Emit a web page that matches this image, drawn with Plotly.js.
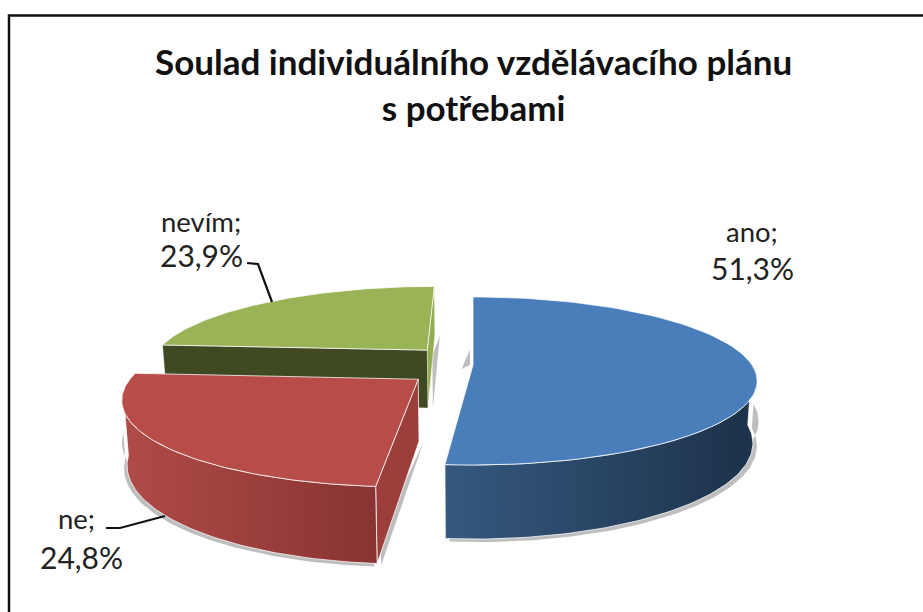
<!DOCTYPE html>
<html><head><meta charset="utf-8">
<script src="https://cdn.plot.ly/plotly-3.0.1.min.js"></script>
<style>html,body{margin:0;padding:0;background:#fff}#c{width:923px;height:612px}</style>
</head><body><div id="c"></div>
<script>
const categories = ["ano", "ne", "nevím"];
const shares = [51.3, 24.8, 23.9];
const titleText = "Soulad individuálního vzdělávacího plánu<br>s potřebami";

// Styling and pseudo-3D projection settings
const topColors = ["#4a7ebb", "#b84c49", "#9bb357"];
const sideGrad = [["#35597f", "#1c3149"], ["#b04b48", "#873432"], ["#3f4a22", "#3f4a22"]];
const cutStartColors = [null, "#9b3e3c", "#3f4a22"];
const cutEndColors = [null, null, "#93ae52"];
const offsets = [[0, 0], [-0.19, 0.17], [-0.17, -0.19]];
const wallArc = [[90, 999], [0, 262], [999, -999]];
const cx = 473, cy = 365, ax = 279, ay = 81, persp = 0.19, depth = 60;
const labelPos = [[752, 231, 268], [76, 518, 557], [201, 221, 255]];
const leaders = [null, [[106, 528], [120, 528], [165, 516]], [[247, 263], [258, 264], [272, 302]]];

function proj(X, Y, z) {
  const s = 1 / (1 - persp * Y);
  return [cx + ax * X * s * (1 - 0.015 * z), cy + ay * Y * s + depth * z * s];
}
function rim(i, a, z) {
  const r = a * Math.PI / 180;
  return proj(offsets[i][0] + Math.sin(r), offsets[i][1] - Math.cos(r), z);
}
function arc(i, a0, a1, z) {
  const pts = [], n = 80;
  for (let k = 0; k <= n; k++) pts.push(rim(i, a0 + (a1 - a0) * k / n, z));
  return pts;
}
function poly(pts, fill, line, grad) {
  const p = pts.concat([pts[0]]);
  const t = { x: p.map(q => q[0]), y: p.map(q => q[1]), mode: "lines", fill: "toself",
    line: line ? { color: line, width: 1 } : { width: 0, color: "rgba(0,0,0,0)" },
    hoverinfo: "skip", showlegend: false };
  if (grad) t.fillgradient = { type: "horizontal", colorscale: [[0, grad[0]], [1, grad[1]]] };
  else t.fillcolor = fill;
  return t;
}

const total = shares.reduce((a, b) => a + b, 0);
let acc = 0;
const spans = shares.map(v => { const s = [acc, acc + v / total * 360]; acc = s[1]; return s; });

const edge = "rgba(255,255,255,0.75)";
const shadow = "rgba(110,110,110,0.45)";
const traces = [];
function shifted(pts, dx, dy) { return pts.map(q => [q[0] + dx, q[1] + dy]); }
function drawSlice(i) {
  const [a0, a1] = spans[i];
  const apexT = proj(offsets[i][0], offsets[i][1], 0), apexB = proj(offsets[i][0], offsets[i][1], 1);
  const wa = Math.max(a0, wallArc[i][0]), wb = Math.min(a1, wallArc[i][1]);
  if (wb > wa) {
    const lower = arc(i, wa, wb, 0.6).concat(arc(i, wb, wa, 1));
    traces.push(poly(shifted(lower, i === 0 ? 4 : -3, 3), shadow));
  }
  if (i === 1) traces.push(poly(shifted([apexB, rim(i, a0, 1), rim(i, a0, 0.6)], 4, 2), shadow));
  if (i === 2) traces.push(poly(shifted([proj(offsets[i][0], offsets[i][1], 0.1), rim(i, a1, 1), apexB], 5, 0), shadow));
  if (i === 0) traces.push(poly(shifted([proj(0, -0.2, 0), proj(0, 0, 0), proj(-0.03, 0.05, 0)], -3, 0), shadow));
  if (cutEndColors[i]) traces.push(poly([apexT, rim(i, a1, 0), rim(i, a1, 1), apexB], cutEndColors[i], "rgba(255,255,255,0.45)"));
  if (cutStartColors[i]) traces.push(poly([apexT, rim(i, a0, 0), rim(i, a0, 1), apexB], cutStartColors[i], i === 2 ? "rgba(255,255,255,0.4)" : edge));
  if (wb > wa) traces.push(poly(arc(i, wa, wb, 0).concat(arc(i, wb, wa, 1)), null, edge, sideGrad[i]));
  traces.push(poly([apexT].concat(arc(i, a0, a1, 0)), topColors[i], edge));
}
[2, 1, 0].forEach(drawSlice);

leaders.forEach(l => {
  if (!l) return;
  traces.push({ x: l.map(q => q[0]), y: l.map(q => q[1]), mode: "lines",
    line: { color: "#111", width: 2.2 }, hoverinfo: "skip", showlegend: false });
});

const fam = "Lato, 'Open Sans', sans-serif";
const wordFont = { family: fam, size: 27.5, color: "#222" };
const pctFont = { family: fam, size: 30, color: "#222" };
const annotations = [];
categories.forEach((c, i) => {
  annotations.push({ x: labelPos[i][0], y: labelPos[i][1], text: c + ";", showarrow: false, font: wordFont, xref: "x", yref: "y" });
  annotations.push({ x: labelPos[i][0] + (i === 1 ? 5 : 0), y: labelPos[i][2], text: shares[i].toFixed(1).replace(".", ",") + "%", showarrow: false, font: pctFont, xref: "x", yref: "y" });
});
annotations.push({ x: 473, y: 84, text: titleText, showarrow: false, xref: "x", yref: "y",
  font: { family: fam, size: 35, color: "#111", weight: 700 }, align: "center" });

const layout = {
  width: 923, height: 612, margin: { l: 0, r: 0, t: 0, b: 0 },
  paper_bgcolor: "#fff", plot_bgcolor: "#fff", showlegend: false,
  xaxis: { range: [0, 923], visible: false, fixedrange: true },
  yaxis: { range: [612, 0], visible: false, fixedrange: true },
  annotations,
  shapes: [
    { type: "path", xref: "x", yref: "y", path: "M9,612 L9,15.5 L923,15.5", line: { color: "#111", width: 2.5 } }
  ]
};
Plotly.newPlot("c", traces, layout, { displayModeBar: false, staticPlot: true });
</script></body></html>
